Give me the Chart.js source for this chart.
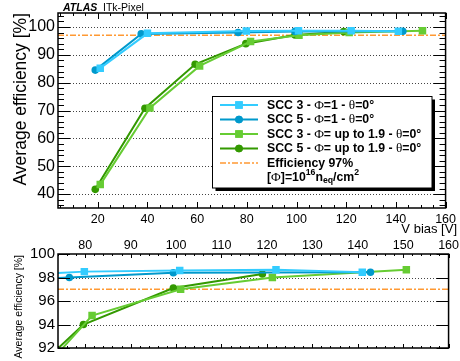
<!DOCTYPE html>
<html><head><meta charset="utf-8">
<script src="https://cdn.jsdelivr.net/npm/chart.js@4.4.0/dist/chart.umd.min.js"></script>
<style>
html,body{margin:0;padding:0;background:#fff;width:460px;height:361px;overflow:hidden}
canvas{position:absolute;left:0}
#top{top:0}
#bot{top:240px}
</style></head><body>
<canvas id="top" width="460" height="240"></canvas>
<canvas id="bot" width="460" height="121"></canvas>
<script>
// ---------- data ----------
const vScc3Phi1   = [21, 40, 79.8, 100.8, 122, 141];
const effScc3Phi1 = [85.2, 97.7, 98.5, 98.6, 98.65, 98.45];
const vScc5Phi1   = [19, 37.5, 76.5, 99.4, 142.8];
const effScc5Phi1 = [84.5, 97.5, 98.0, 98.4, 98.45];
const vScc3Phi19   = [21, 41, 61, 81.5, 101, 121.2, 150.7];
const effScc3Phi19 = [43.4, 70.9, 86.0, 94.76, 97.0, 98.0, 98.65];
const vScc5Phi19   = [19, 39, 59.2, 79.6, 99.4, 119];
const effScc5Phi19 = [41.7, 70.8, 86.6, 94.0, 97.1, 98.3];
const efficiencyTarget = 97;

const topXTicks = [20, 40, 60, 80, 100, 120, 140, 160];
const topYTicks = [40, 50, 60, 70, 80, 90, 100];
const botXTicks = [80, 90, 100, 110, 120, 130, 140, 150, 160];
const botYTicks = [92, 94, 96, 98, 100];

const FONT = '"Liberation Sans", Arial, Helvetica, sans-serif';
const SYM = '"Liberation Serif", "DejaVu Serif", serif';

const seriesDefs = [
  {v: vScc3Phi1,  e: effScc3Phi1,  color: '#33ccff', style: 'rect',   r: 5.3},
  {v: vScc5Phi1,  e: effScc5Phi1,  color: '#0099cc', style: 'circle', r: 3.8},
  {v: vScc3Phi19, e: effScc3Phi19, color: '#66cc33', style: 'rect',   r: 5.3},
  {v: vScc5Phi19, e: effScc5Phi19, color: '#339900', style: 'circle', r: 3.8}
];

function makeDatasets(clip) {
  return seriesDefs.map(s => ({
    data: s.v.map((v, i) => ({x: v, y: s.e[i]})),
    showLine: true,
    borderColor: s.color,
    backgroundColor: s.color,
    borderWidth: 2,
    pointStyle: s.style,
    pointRadius: s.r,
    pointHoverRadius: s.r,
    pointBorderWidth: 0,
    clip: clip
  }));
}

function rootStyle(cfg) {
  return {
    id: 'rootStyle',
    beforeDatasetsDraw(chart) {
      const {ctx, chartArea: a, scales: {x, y}} = chart;
      ctx.save();
      ctx.strokeStyle = '#444'; ctx.lineWidth = 1; ctx.setLineDash([1, 2]);
      cfg.yTicks.forEach(v => {
        const py = Math.round(y.getPixelForValue(v)) + 0.5;
        if (py <= a.top + 1 || py >= a.bottom - 1) return;
        ctx.beginPath(); ctx.moveTo(a.left, py); ctx.lineTo(a.right, py); ctx.stroke();
      });
      ctx.setLineDash([6, 2, 2, 2]); ctx.strokeStyle = '#ff9933'; ctx.lineWidth = 1.5;
      const ey = y.getPixelForValue(efficiencyTarget);
      ctx.beginPath(); ctx.moveTo(a.left, ey); ctx.lineTo(a.right, ey); ctx.stroke();
      ctx.restore();
    },
    afterDatasetsDraw(chart) {
      const {ctx, chartArea: a, scales: {x, y}} = chart;
      ctx.save();
      ctx.strokeStyle = '#000'; ctx.lineWidth = 1;
      const tickY = (v, len) => {
        const py = Math.round(y.getPixelForValue(v)) + 0.5;
        ctx.beginPath();
        ctx.moveTo(a.left, py); ctx.lineTo(a.left + len, py);
        ctx.moveTo(a.right, py); ctx.lineTo(a.right - len, py);
        ctx.stroke();
      };
      const tickX = (v, len) => {
        const px = Math.round(x.getPixelForValue(v)) + 0.5;
        ctx.beginPath();
        ctx.moveTo(px, a.bottom); ctx.lineTo(px, a.bottom - len);
        ctx.moveTo(px, a.top); ctx.lineTo(px, a.top + len);
        ctx.stroke();
      };
      cfg.yTicks.forEach(v => tickY(v, cfg.yMajor));
      if (cfg.yMinorStep) {
        for (let v = Math.ceil(y.min / cfg.yMinorStep) * cfg.yMinorStep; v <= y.max; v += cfg.yMinorStep)
          if (!cfg.yTicks.includes(v)) tickY(v, cfg.yMajor / 2);
      }
      cfg.xTicks.forEach(v => tickX(v, cfg.xMajor));
      for (let v = Math.ceil(x.min / cfg.xMinorStep) * cfg.xMinorStep; v <= x.max; v += cfg.xMinorStep)
        if (!cfg.xTicks.includes(v)) tickX(v, cfg.xMajor / 2);
      ctx.lineWidth = 1.5;
      ctx.strokeRect(a.left, a.top, a.right - a.left, a.bottom - a.top);
      ctx.restore();
    },
    afterDraw(chart) { if (cfg.extra) cfg.extra(chart); }
  };
}

function drawSegments(ctx, x, y, segs) {
  segs.forEach(s => {
    let font, dy = 0;
    if (s.t === 'b') font = 'bold 12.3px ' + FONT;
    else if (s.t === 's') font = '13.3px ' + SYM;
    else if (s.t === 'sup') { font = 'bold 8.7px ' + FONT; dy = -5; }
    else if (s.t === 'sub') { font = 'bold 8.7px ' + FONT; dy = 3; }
    ctx.font = font;
    ctx.fillText(s.s, x, y + dy);
    x += ctx.measureText(s.s).width;
  });
}

function drawTopExtras(chart) {
  const ctx = chart.ctx;
  ctx.save();
  // header
  ctx.fillStyle = '#000'; ctx.textBaseline = 'alphabetic'; ctx.textAlign = 'left';
  ctx.font = 'italic bold 10.5px ' + FONT;
  ctx.fillText('ATLAS', 63, 10.5);
  ctx.font = '10.5px ' + FONT;
  ctx.fillText('ITk-Pixel', 103, 10.5);
  // y title
  ctx.save();
  ctx.translate(26, 13); ctx.rotate(-Math.PI / 2);
  ctx.textAlign = 'right'; ctx.font = '17.5px ' + FONT;
  ctx.fillText('Average efficiency [%]', 0, 0);
  ctx.restore();
  // x title
  ctx.textAlign = 'right'; ctx.font = '13px ' + FONT;
  ctx.fillText('V bias [V]', 457, 233);
  // legend
  const L = 212.5, T = 96.5, R = 432, B = 188;
  ctx.fillStyle = '#000'; ctx.fillRect(L + 3, T + 3, R - L, B - T);
  ctx.fillStyle = '#fff'; ctx.fillRect(L, T, R - L, B - T);
  ctx.strokeStyle = '#000'; ctx.lineWidth = 1; ctx.strokeRect(L, T, R - L, B - T);
  const rows = [105, 119.5, 134, 148.5, 163, 177.5];
  const texts = [
    [{t:'b',s:'SCC 3 - '},{t:'s',s:'Φ'},{t:'b',s:'=1 - '},{t:'s',s:'θ'},{t:'b',s:'=0°'}],
    [{t:'b',s:'SCC 5 - '},{t:'s',s:'Φ'},{t:'b',s:'=1 - '},{t:'s',s:'θ'},{t:'b',s:'=0°'}],
    [{t:'b',s:'SCC 3 - '},{t:'s',s:'Φ'},{t:'b',s:'= up to 1.9 - '},{t:'s',s:'θ'},{t:'b',s:'=0°'}],
    [{t:'b',s:'SCC 5 - '},{t:'s',s:'Φ'},{t:'b',s:'= up to 1.9 - '},{t:'s',s:'θ'},{t:'b',s:'=0°'}],
    [{t:'b',s:'Efficiency 97%'}],
    [{t:'b',s:'['},{t:'s',s:'Φ'},{t:'b',s:']=10'},{t:'sup',s:'16'},{t:'b',s:'n'},{t:'sub',s:'eq'},{t:'b',s:'/cm'},{t:'sup',s:'2'}]
  ];
  for (let i = 0; i < 4; i++) {
    const s = seriesDefs[i], yy = rows[i];
    ctx.strokeStyle = s.color; ctx.lineWidth = 2;
    ctx.beginPath(); ctx.moveTo(220, yy); ctx.lineTo(258, yy); ctx.stroke();
    ctx.fillStyle = s.color;
    Chart.helpers.drawPoint(ctx, {pointStyle: s.style, radius: s.r, borderWidth: 0}, 239, yy);
    ctx.fill();
  }
  ctx.strokeStyle = '#ff9933'; ctx.lineWidth = 1.5; ctx.setLineDash([6, 2, 2, 2]);
  ctx.beginPath(); ctx.moveTo(220, rows[4]); ctx.lineTo(258, rows[4]); ctx.stroke();
  ctx.setLineDash([]);
  ctx.fillStyle = '#000'; ctx.textAlign = 'left'; ctx.textBaseline = 'middle';
  texts.forEach((segs, i) => drawSegments(ctx, 267, rows[i] + 0.5, segs));
  ctx.restore();
}

function drawBotExtras(chart) {
  const ctx = chart.ctx;
  ctx.save();
  ctx.fillStyle = '#000';
  ctx.translate(22, 15); ctx.rotate(-Math.PI / 2);
  ctx.textAlign = 'right'; ctx.font = '10.5px ' + FONT;
  ctx.fillText('Average efficiency [%]', 0, 0);
  ctx.restore();
}

const setTicks = arr => (s => { s.ticks = arr.map(v => ({value: v})); });

new Chart(document.getElementById('top'), {
  type: 'scatter',
  data: {datasets: makeDatasets(undefined)},
  options: {
    responsive: false, animation: false, devicePixelRatio: 1,
    layout: {padding: {left: 0, top: 13, right: 11, bottom: 0}},
    plugins: {legend: {display: false}, tooltip: {enabled: false}},
    scales: {
      x: {
        type: 'linear', min: 4, max: 160,
        afterBuildTicks: setTicks(topXTicks),
        afterFit: s => { s.height = 32; },
        grid: {display: false, drawTicks: false}, border: {display: false},
        ticks: {color: '#000', font: {family: FONT, size: 12.5}, padding: 4, maxRotation: 0, autoSkip: false}
      },
      y: {
        type: 'linear', min: 35, max: 105,
        afterBuildTicks: setTicks(topYTicks),
        afterFit: s => { s.width = 58; },
        grid: {display: false, drawTicks: false}, border: {display: false},
        ticks: {color: '#000', font: {family: FONT, size: 16}, padding: 3, autoSkip: false}
      }
    }
  },
  plugins: [rootStyle({xTicks: topXTicks, yTicks: topYTicks, xMajor: 6, xMinorStep: 5, yMajor: 12, yMinorStep: 2, extra: drawTopExtras})]
});

new Chart(document.getElementById('bot'), {
  type: 'scatter',
  data: {datasets: makeDatasets(0)},
  options: {
    responsive: false, animation: false, devicePixelRatio: 1,
    layout: {padding: {left: 0, top: 0, right: 11, bottom: 13}},
    plugins: {legend: {display: false}, tooltip: {enabled: false}},
    scales: {
      x: {
        type: 'linear', position: 'top', min: 74, max: 160,
        afterBuildTicks: setTicks(botXTicks),
        afterFit: s => { s.height = 14; },
        grid: {display: false, drawTicks: false}, border: {display: false},
        ticks: {color: '#000', font: {family: FONT, size: 12.5}, padding: 1, maxRotation: 0, autoSkip: false}
      },
      y: {
        type: 'linear', min: 92, max: 100,
        afterBuildTicks: setTicks(botYTicks),
        afterFit: s => { s.width = 58; },
        grid: {display: false, drawTicks: false}, border: {display: false},
        ticks: {color: '#000', font: {family: FONT, size: 15}, padding: 3, autoSkip: false}
      }
    }
  },
  plugins: [rootStyle({xTicks: botXTicks, yTicks: botYTicks, xMajor: 4, xMinorStep: 2, yMajor: 12, yMinorStep: 0, extra: drawBotExtras})]
});
</script>
</body></html>
